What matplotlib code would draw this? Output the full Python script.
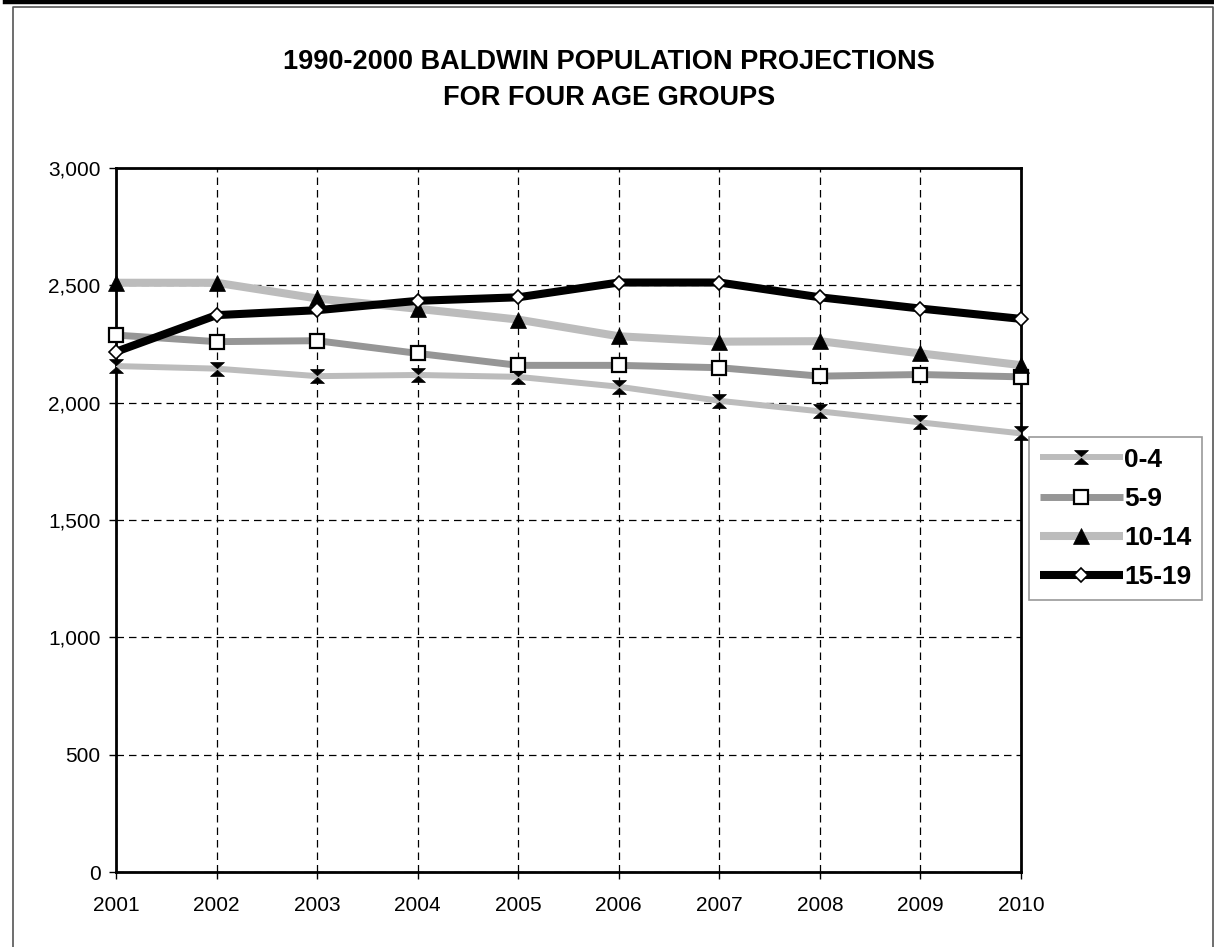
import matplotlib
matplotlib.use("Agg")
import matplotlib.pyplot as plt
from matplotlib.path import Path
from matplotlib.lines import Line2D
from matplotlib.ticker import FuncFormatter

plt.rcParams["font.family"] = ["Liberation Sans", "DejaVu Sans"]

years = [2001, 2002, 2003, 2004, 2005, 2006, 2007, 2008, 2009, 2010]
age_0_4 = [2156, 2145, 2113, 2118, 2110, 2068, 2008, 1963, 1916, 1869]
age_5_9 = [2288, 2260, 2264, 2210, 2159, 2159, 2149, 2113, 2120, 2110]
age_10_14 = [2511, 2511, 2444, 2400, 2354, 2283, 2260, 2262, 2210, 2160]
age_15_19 = [2217, 2373, 2394, 2434, 2449, 2512, 2512, 2449, 2401, 2357]
labels = ["0-4", "5-9", "10-14", "15-19"]
y_ticks = [0, 500, 1000, 1500, 2000, 2500, 3000]

title = "1990-2000 BALDWIN POPULATION PROJECTIONS\nFOR FOUR AGE GROUPS"

# hourglass marker: black top/bottom wedges, white sides
hourglass = Path(
    [(-1, 1), (1, 1), (0, 0.12), (-1, 1),
     (-1, -1), (1, -1), (0, -0.12), (-1, -1)],
    [Path.MOVETO, Path.LINETO, Path.LINETO, Path.CLOSEPOLY,
     Path.MOVETO, Path.LINETO, Path.LINETO, Path.CLOSEPOLY],
)

W, H = 1214, 947
fig = plt.figure(figsize=(W / 100, H / 100), dpi=100)

# outer frames
fig.add_artist(Line2D([5 / W, 1.0], [1 - 2 / H, 1 - 2 / H], lw=3.2, color="black",
                      transform=fig.transFigure))
fig.add_artist(Line2D([13 / W, 13 / W, 1212.5 / W, 1212.5 / W], [0, 1 - 7.5 / H, 1 - 7.5 / H, 0],
                      lw=1.2, color="#555555", transform=fig.transFigure))

ax = fig.add_axes([116 / W, 75 / H, 905 / W, 704 / H])

styles = [
    dict(color="#bcbcbc", lw=4.3, marker=hourglass, ms=10, mfc="black", mec="black", mew=0.5),
    dict(color="#969696", lw=5.0, marker="s", ms=9.5, mfc="white", mec="black", mew=1.6),
    dict(color="#bcbcbc", lw=5.8, marker="^", ms=11, mfc="black", mec="black", mew=0.5),
    dict(color="black", lw=5.8, marker="D", ms=7.5, mfc="white", mec="black", mew=1.2),
]
series = [age_0_4, age_5_9, age_10_14, age_15_19]
for vals, lab, st in zip(series, labels, styles):
    ax.plot(years, vals, label=lab, clip_on=False, solid_joinstyle="round",
            solid_capstyle="butt", zorder=3, **st)

ax.set_xlim(2001, 2010)
ax.set_ylim(0, 3000)
ax.set_xticks(years)
ax.set_yticks(y_ticks)
ax.yaxis.set_major_formatter(FuncFormatter(lambda v, p: f"{int(v):,}"))
ax.grid(True, color="black", linestyle=(0, (6, 4)), lw=0.9)
ax.set_axisbelow(True)
for sp in ax.spines.values():
    sp.set_linewidth(2.0)
    sp.set_color("black")
ax.tick_params(axis="both", labelsize=15, length=5, width=1, color="black")
ax.tick_params(axis="y", pad=6)
ax.tick_params(axis="x", pad=12)

fig.text(609 / W, 1 - 80 / H, title, ha="center", va="center", fontsize=19.5,
         fontweight="bold", linespacing=1.5)

leg = ax.legend(loc="upper left", bbox_to_anchor=(1029 / W, 1 - 437 / H),
                bbox_transform=fig.transFigure, fancybox=False, frameon=True,
                prop=dict(size=19, weight="bold"), handlelength=3.15,
                handletextpad=0.05, labelspacing=0.58, borderpad=0.4,
                borderaxespad=0)
leg.get_frame().set_edgecolor("#808080")
leg.get_frame().set_linewidth(1.2)

fig.savefig("out.png", dpi=100)
